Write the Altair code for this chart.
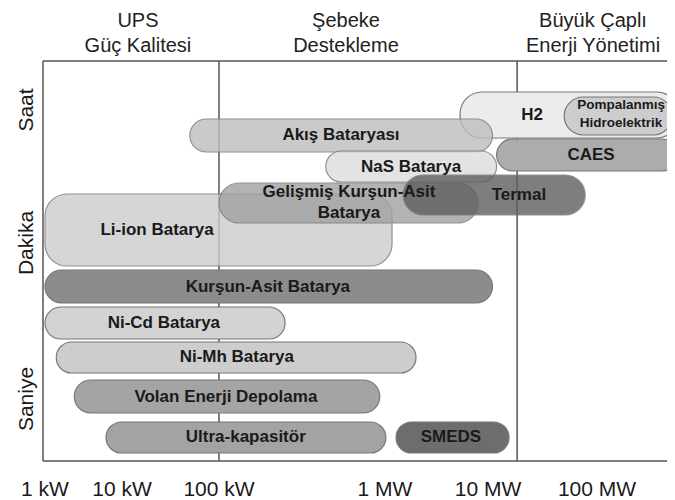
import json
import altair as alt
import pandas as pd

# ---- data -------------------------------------------------------------
names = ["H2", "Pompalanmış Hidroelektrik", "CAES", "Akış Bataryası", "NaS Batarya",
         "Li-ion Batarya", "Gelişmiş Kurşun-Asit Batarya", "Termal",
         "Kurşun-Asit Batarya", "Ni-Cd Batarya", "Ni-Mh Batarya",
         "Volan Enerji Depolama", "Ultra-kapasitör", "SMEDS"]
labels = ["H2", "Pompalanmış\nHidroelektrik", "CAES", "Akış Bataryası", "NaS Batarya",
          "Li-ion Batarya", "Gelişmiş Kurşun-Asit\nBatarya", "Termal",
          "Kurşun-Asit Batarya", "Ni-Cd Batarya", "Ni-Mh Batarya",
          "Volan Enerji Depolama", "Ultra-kapasitör", "SMEDS"]
# power range (kW)
p_min_kw = [5350, 50000, 12000, 50, 440, 1, 100, 1500, 1, 1, 1.4, 2.4, 6.2, 1280]
p_max_kw = [560000, 490000, 560000, 11000, 12000, 1170, 8000, 78000, 11000, 250, 2000, 930, 1020, 15600]
# discharge time (relative level, 0 = saniye ... 100 = saat)
t_min = [80.75, 81.5, 72.5, 77.25, 69.75, 48.75, 59.5, 61.5, 39.5, 30.5, 22, 12, 2, 2]
t_max = [92.25, 91, 80.5, 85.5, 77.5, 66.75, 69.5, 71.5, 47.75, 38.5, 29.75, 20.25, 9.75, 9.75]
# label anchors (kW, time level of first text line)
label_kw = [25400, 166000, 88100, 543, 1790, 23, 607, 19200, 197, 27, 128, 110, 145, 4370]
label_t = [86.5, 89.0, 76.5, 81.4, 73.6, 57.75, 67.25, 66.5, 43.6, 34.5, 25.9, 16, 5.9, 5.9]

fills = ["#ececec", "#cdcdcd", "#acacac", "#bebebe", "#dddddd",
         "#cccccc", "#a1a1a1", "#5f5f5f",
         "#8c8c8c", "#d3d3d3", "#cdcdcd", "#a4a4a4", "#a3a3a3", "#6d6d6d"]
translucent = ["Akış Bataryası", "NaS Batarya", "Li-ion Batarya",
               "Gelişmiş Kurşun-Asit Batarya", "Termal"]

tick_kw = [1, 10, 100, 1000, 10000, 100000]
tick_labels = ["1 kW", "10 kW", "100 kW", "1 MW", "10 MW", "100 MW"]
y_tick_vals = [15.5, 54.5, 87.75]
y_tick_labels = ["Saniye", "Dakika", "Saat"]

header_texts = ["UPS\nGüç Kalitesi", "Şebeke\nDestekleme", "Büyük Çaplı\nEnerji Yönetimi"]
header_kw = [14.6, 582, 91900]
divider_kw = [100, 18500]

# ---- chart ------------------------------------------------------------
W, H = 624, 400
FONT = "Liberation Sans"

df = pd.DataFrame({"name": names, "label": labels, "p_min": p_min_kw, "p_max": p_max_kw,
                   "t_min": t_min, "t_max": t_max, "lx": label_kw, "ly": label_t})

x_scale = alt.Scale(type="log", domain=[1, 10, 100, 1000, 10000, 100000, 438000],
                    range=[2, 79, 176, 342, 445, 554, 624], nice=False)
y_scale = alt.Scale(domain=[0, 100], nice=False, zero=False)

fill_enc = alt.Fill("name:N", scale=alt.Scale(domain=names, range=fills), legend=None)
trans_json = json.dumps(translucent)

base = alt.Chart(df)

bars_opaque = base.transform_filter(f"indexof({trans_json}, datum.name) < 0").mark_rect(
    cornerRadius=22, stroke="#777777", strokeWidth=1.2, clip=True
).encode(
    x=alt.X("p_min:Q", scale=x_scale, axis=None),
    x2="p_max:Q",
    y=alt.Y("t_min:Q", scale=y_scale, axis=None),
    y2="t_max:Q",
    fill=fill_enc,
)

bars_trans = base.transform_filter(f"indexof({trans_json}, datum.name) >= 0").mark_rect(
    cornerRadius=22, stroke="#777777", strokeWidth=1.2, opacity=0.8, clip=True
).encode(
    x=alt.X("p_min:Q", scale=x_scale, axis=None),
    x2="p_max:Q",
    y=alt.Y("t_min:Q", scale=y_scale, axis=None),
    y2="t_max:Q",
    fill=fill_enc,
)

labels_main = base.transform_filter("datum.name != 'Pompalanmış Hidroelektrik'").mark_text(
    font=FONT, fontSize=17, fontWeight="bold", color="#1a1a1a", lineBreak="\n",
    lineHeight=21, align="center", baseline="middle"
).encode(
    x=alt.X("lx:Q", scale=x_scale, axis=None),
    y=alt.Y("ly:Q", scale=y_scale, axis=None),
    text="label:N",
)

labels_small = base.transform_filter("datum.name == 'Pompalanmış Hidroelektrik'").mark_text(
    font=FONT, fontSize=13.5, fontWeight="bold", color="#1a1a1a", lineBreak="\n",
    lineHeight=18, align="center", baseline="middle"
).encode(
    x=alt.X("lx:Q", scale=x_scale, axis=None),
    y=alt.Y("ly:Q", scale=y_scale, axis=None),
    text="label:N",
)

dividers = alt.Chart(pd.DataFrame({"kw": divider_kw})).mark_rule(
    color="#555555", strokeWidth=1.5
).encode(
    x=alt.X("kw:Q", scale=x_scale, axis=None),
    y=alt.value(0), y2=alt.value(H),
)

frame_df = pd.DataFrame({"k": [0]})
frame_left = alt.Chart(frame_df).mark_rule(color="#555555", strokeWidth=1.5).encode(
    x=alt.value(0), y=alt.value(0), y2=alt.value(H))
frame_top = alt.Chart(frame_df).mark_rule(color="#555555", strokeWidth=1.5).encode(
    x=alt.value(0), x2=alt.value(W), y=alt.value(0))
frame_bottom = alt.Chart(frame_df).mark_rule(color="#555555", strokeWidth=1.5).encode(
    x=alt.value(0), x2=alt.value(W), y=alt.value(H))

x_ticks = alt.Chart(pd.DataFrame({"kw": tick_kw, "t": tick_labels})).mark_text(
    font=FONT, fontSize=21, color="#1a1a1a", align="center", baseline="top"
).encode(
    x=alt.X("kw:Q", scale=x_scale, axis=None),
    y=alt.value(H + 18),
    text="t:N",
)

y_ticks = alt.Chart(pd.DataFrame({"v": y_tick_vals, "t": y_tick_labels})).mark_text(
    font=FONT, fontSize=21, color="#1a1a1a", align="center", baseline="alphabetic", angle=270
).encode(
    x=alt.value(-10),
    y=alt.Y("v:Q", scale=y_scale, axis=None),
    text="t:N",
)

headers = alt.Chart(pd.DataFrame({"t": header_texts, "kw": header_kw})).mark_text(
    font=FONT, fontSize=20, color="#222222", lineBreak="\n", lineHeight=25,
    align="center", baseline="middle"
).encode(
    x=alt.X("kw:Q", scale=x_scale, axis=None),
    y=alt.value(-40),
    text="t:N",
)

chart = alt.layer(
    dividers, bars_opaque, bars_trans, frame_left, frame_top, frame_bottom,
    labels_main, labels_small, headers, x_ticks, y_ticks
).properties(
    width=W, height=H,
    autosize=alt.AutoSizeParams(type="none"),
    padding={"left": 35, "top": 53, "right": 0, "bottom": 38},
    background="white",
).configure_view(stroke=None)

chart.save("out.html", embed_options={"renderer": "svg", "actions": False})
